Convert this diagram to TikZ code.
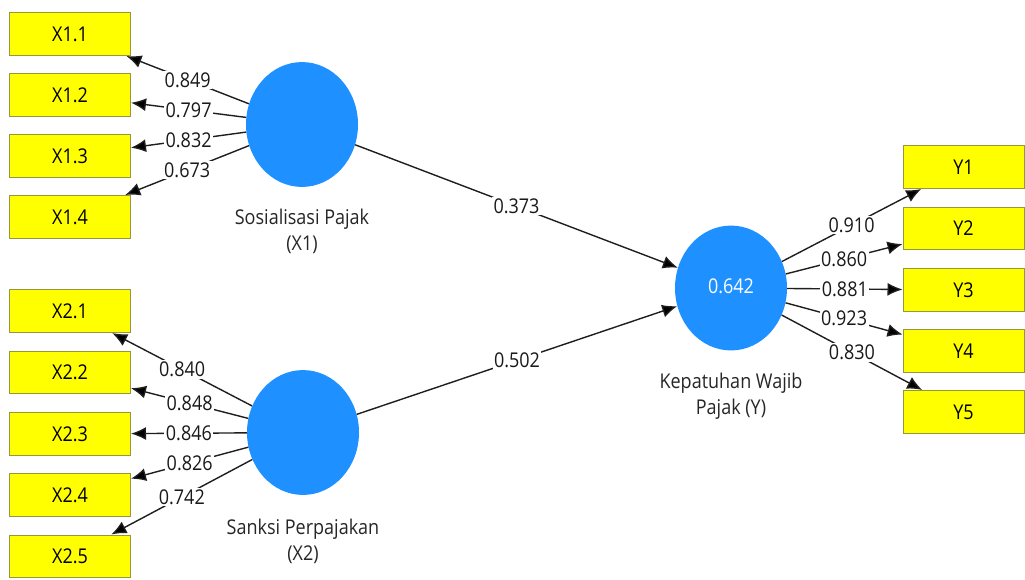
\documentclass[tikz,border=0pt]{standalone}
\usepackage{fontspec}
\setmainfont{Open Sans}
\usetikzlibrary{shapes.geometric,arrows.meta}
\definecolor{boxfill}{RGB}{255,255,0}
\definecolor{boxline}{RGB}{150,150,60}
\definecolor{latfill}{RGB}{30,144,255}
\definecolor{linecol}{RGB}{30,30,30}
\begin{document}
\begin{tikzpicture}[x=1pt,y=-1pt,
  every node/.style={font=\fontsize{18}{23}\selectfont,yscale=1.13,transform shape},
  ind/.style={draw=boxline,line width=1pt,fill=boxfill,minimum width=121pt,minimum height=38pt,inner sep=0pt},
  lat/.style={ellipse,fill=latfill,minimum width=112pt,minimum height=110.5pt,inner sep=0pt},
  latlbl/.style={align=center,text=black!85,inner sep=0pt},
  arr/.style={draw=linecol,line width=1.4pt,-{Latex[length=15pt,width=13pt,fill=black]}},
  lbl/.style={fill=white,inner sep=1.5pt,text=black!90}]
\useasboundingbox (0,0) rectangle (1025,579);
% indicators X1
\node[ind] (x11) at (70,34) {X1.1};
\node[ind] (x12) at (70,95) {X1.2};
\node[ind] (x13) at (70,156) {X1.3};
\node[ind] (x14) at (70,217) {X1.4};
% indicators X2
\node[ind] (x21) at (70,311) {X2.1};
\node[ind] (x22) at (70,372.5) {X2.2};
\node[ind] (x23) at (70,434) {X2.3};
\node[ind] (x24) at (70,495) {X2.4};
\node[ind] (x25) at (70,556.5) {X2.5};
% indicators Y
\node[ind] (y1) at (963.5,167) {Y1};
\node[ind] (y2) at (963.5,228.5) {Y2};
\node[ind] (y3) at (963.5,290) {Y3};
\node[ind] (y4) at (963.5,351) {Y4};
\node[ind] (y5) at (963.5,412) {Y5};
% latent variables
\node[lat] (X1) at (302,124.5) {};
\node[lat] (X2) at (303,432.5) {};
\node[lat,text=white] (Y) at (731,288) {\raisebox{4pt}{0.642}};
\node[latlbl] (lx1) at (302,231) {Sosialisasi Pajak\\(X1)};
\node[latlbl] (lx2) at (303,541) {Sanksi Perpajakan\\(X2)};
\node[latlbl] (ly) at (731,396) {Kepatuhan Wajib\\Pajak (Y)};
% outer loadings X1
\draw[arr] (X1) -- node[lbl] {0.849} (x11);
\draw[arr] (X1) -- node[lbl] {0.797} (x12);
\draw[arr] (X1) -- node[lbl] {0.832} (x13);
\draw[arr] (X1) -- node[lbl] {0.673} (x14);
% outer loadings X2
\draw[arr] (X2) -- node[lbl] {0.840} (x21);
\draw[arr] (X2) -- node[lbl] {0.848} (x22);
\draw[arr] (X2) -- node[lbl] {0.846} (x23);
\draw[arr] (X2) -- node[lbl] {0.826} (x24);
\draw[arr] (X2) -- node[lbl] {0.742} (x25);
% outer loadings Y
\draw[arr] (Y) -- node[lbl] {0.910} (y1);
\draw[arr] (Y) -- node[lbl] {0.860} (y2);
\draw[arr] (Y) -- node[lbl] {0.881} (y3);
\draw[arr] (Y) -- node[lbl] {0.923} (y4);
\draw[arr] (Y) -- node[lbl] {0.830} (y5);
% path coefficients
\draw[arr] (X1) -- node[lbl] {0.373} (Y);
\draw[arr] (X2) -- node[lbl] {0.502} (Y);
\end{tikzpicture}
\end{document}
